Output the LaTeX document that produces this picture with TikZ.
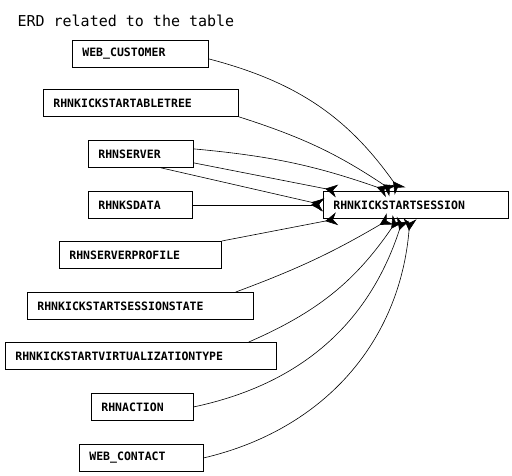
\documentclass[tikz,border=0pt]{standalone}
\usepackage{fontspec}
\setmonofont{DejaVu Sans Mono}
\usetikzlibrary{arrows.meta}

\begin{document}
\begin{tikzpicture}[x=1pt,y=-1pt,
   tbl/.style={draw,line width=0.8pt,anchor=north west,minimum height=27pt,
     inner xsep=10pt,inner ysep=0pt,align=left,
     font=\ttfamily\bfseries\fontsize{11.5}{12}\selectfont},
   rel/.style={line width=0.6pt,-{Stealth[reversed,length=12pt,width=13pt,inset=4pt]}}]
   \useasboundingbox (0,0) rectangle (512,476);
   \node[anchor=base west,font=\ttfamily\fontsize{15}{18}\selectfont] (title) at (14,27) {ERD related to the table};
   \node[tbl,text width=116pt] (wcust) at (72,40) {WEB\_CUSTOMER};
   \node[tbl,text width=175pt] (tree) at (43,89) {RHNKICKSTARTABLETREE};
   \node[tbl,text width=85pt] (srv) at (88,140) {RHNSERVER};
   \node[tbl,text width=84pt] (ksd) at (88,191) {RHNKSDATA};
   \node[tbl,text width=142pt] (prof) at (59,241) {RHNSERVERPROFILE};
   \node[tbl,text width=206pt] (state) at (27,292) {RHNKICKSTARTSESSIONSTATE};
   \node[tbl,text width=251pt] (virt) at (5,342) {RHNKICKSTARTVIRTUALIZATIONTYPE};
   \node[tbl,text width=82pt] (act) at (91,393) {RHNACTION};
   \node[tbl,text width=104pt] (wcont) at (79,444) {WEB\_CONTACT};
   \node[tbl,text width=165pt] (sess) at (323,191) {RHNKICKSTARTSESSION};
   % links into the session table
   \draw[rel] ([yshift=-5pt]wcust.east) to[bend left=20] ([xshift=77pt]sess.north west);
   \draw[rel] (tree.south east) to[bend left=8] ([xshift=70pt]sess.north west);
   \draw[rel] ([yshift=5pt]srv.east) to[bend left=7] ([xshift=65pt]sess.north west);
   \draw[rel] ([yshift=-9pt]srv.east) -- ([xshift=14pt]sess.north west);
   \draw[rel] ([xshift=-33pt]srv.south east) -- (sess.west);
   \draw[rel] (ksd.east) -- (sess.west);
   \draw[rel] (prof.north east) -- ([xshift=14pt]sess.south west);
   \draw[rel] ([xshift=-18pt]state.north east) to[bend right=5] ([xshift=67pt]sess.south west);
   \draw[rel] ([xshift=-28pt]virt.north east) to[bend right=16] ([xshift=75pt]sess.south west);
   \draw[rel] (act.east) to[bend right=30] ([xshift=80pt]sess.south west);
   \draw[rel] (wcont.east) to[bend right=36] ([xshift=87pt]sess.south west);
\end{tikzpicture}
\end{document}
